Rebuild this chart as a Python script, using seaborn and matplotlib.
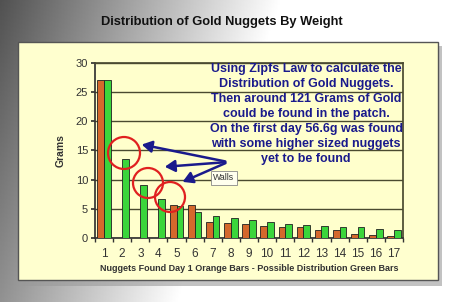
import numpy as np
import pandas as pd
import matplotlib
matplotlib.use("Agg")
import matplotlib.pyplot as plt
import seaborn as sns
from matplotlib.patches import Rectangle, Ellipse

categories = [str(i) for i in range(1, 18)]
found_day1 = [27.1, 0, 0, 0, 5.6, 5.6, 2.8, 2.6, 2.4, 2.1, 1.9, 1.8, 1.3, 1.3, 0.6, 0.45, 0.3]
possible = [27.1, 13.5, 9.1, 6.7, 5.4, 4.4, 3.8, 3.4, 3.0, 2.7, 2.4, 2.2, 2.1, 1.8, 1.8, 1.6, 1.3]
yticks = [0, 5, 10, 15, 20, 25, 30]

df = pd.DataFrame({
    "n": categories * 2,
    "grams": found_day1 + possible,
    "series": ["Found"] * 17 + ["Possible"] * 17,
})

sns.set_theme(style="white")
plt.rcParams['font.family'] = ['Liberation Sans', 'DejaVu Sans']

fig = plt.figure(figsize=(4.5, 3.02), dpi=100)

# background gradient
bg = fig.add_axes([0, 0, 1, 1], zorder=-10)
gx = np.linspace(0, 1, 300)
gy = np.linspace(0, 1, 200)
X, Y = np.meshgrid(gx, gy)
G = 0.32 + 0.68 * np.clip(X * 1.6, 0, 1)
G = np.clip(G + 0.25 * Y, 0, 1)
bg.imshow(G, cmap="gray", vmin=0, vmax=1, aspect="auto", extent=[0, 1, 0, 1], origin="upper")
bg.set_xlim(0, 1); bg.set_ylim(0, 1)
bg.axis("off")
# shadow + yellow chart box
bg.add_patch(Rectangle((22/450, 1-286/302), 420/450, 240/302, facecolor="#9a9a9a", edgecolor="none", alpha=0.6))
bg.add_patch(Rectangle((18/450, 1-280/302), 420/450, 238/302, facecolor="#FFFFCF", edgecolor="#555555", linewidth=1.0))

fig.text(222/450, 1-22/302, "Distribution of Gold Nuggets By Weight", ha="center", va="center",
         fontsize=9.3, fontweight="bold", color="#111111")

ax = fig.add_axes([95/450, 1-238/302, 308/450, 175.3/302])
ax.set_facecolor("#FFFFCC")
sns.barplot(data=df, x="n", y="grams", hue="series", palette=["#F06010", "#22EE22"],
            width=0.74, edgecolor="#202020", linewidth=0.6, legend=False, ax=ax, zorder=3)
ax.set_xlim(-0.5, 16.5)
ax.set_ylim(0, 30)
ax.set_yticks(yticks)
ax.yaxis.grid(True, color="#4a4a30", linewidth=1.0, zorder=0)
ax.set_axisbelow(True)
ax.set_xticks(range(17))
ax.set_xticks(np.arange(-0.5, 17, 1), minor=True)
ax.tick_params(axis="x", which="major", length=0, labelsize=8.5, labelcolor="#333333", pad=7)
ax.tick_params(axis="x", which="minor", length=3, color="#333333", direction="out", bottom=True)
ax.tick_params(axis="y", length=3, color="#333333", direction="out", left=True, labelsize=8, labelcolor="#333333", pad=2)
for side in ["top", "right"]:
    ax.spines[side].set_visible(True)
    ax.spines[side].set_color("#4a4a30")
for side in ["left", "bottom"]:
    ax.spines[side].set_color("#333333")
ax.set_xlabel("Nuggets Found Day 1 Orange Bars - Possible Distribution Green Bars",
              fontsize=6.5, fontweight="bold", color="#333333", labelpad=3)
ax.set_ylabel("Grams", fontsize=7.5, fontweight="bold", color="#333333", labelpad=7)

note = ("Using Zipfs Law to calculate the\nDistribution of Gold Nuggets.\nThen around 121 Grams of Gold\n"
        "could be found in the patch.\nOn the first day 56.6g was found\nwith some higher sized nuggets\nyet to be found")
fig.text(306/450, 1-63/302, note, ha="center", va="top", fontsize=9, fontweight="bold",
         color="#1a1a8c", linespacing=1.34)

# arrows and circles (figure pixel coords)
def fp(x, y):
    return (x/450, 1-y/302)

for tip in [(139, 144), (162, 167), (180, 183)]:
    fig.add_artist(matplotlib.patches.FancyArrowPatch(fp(228, 162), fp(*tip), transform=fig.transFigure,
                   arrowstyle="-|>,head_length=6,head_width=3.5", color="#1a1a8c", linewidth=1.8))
for (cx, cy, r) in [(124, 153, 16), (148, 183, 15), (170, 197, 15)]:
    fig.add_artist(Ellipse(fp(cx, cy), 2*r/450, 2*r/302, transform=fig.transFigure,
                   facecolor="none", edgecolor="#e02020", linewidth=1.6))
fig.text(224/450, 1-178/302, "Walls", ha="center", va="center", fontsize=6.3, color="#333333",
         bbox=dict(boxstyle="square,pad=0.3", facecolor="#FFFFEE", edgecolor="#888888", linewidth=0.6))

fig.savefig("out.png", dpi=100)
